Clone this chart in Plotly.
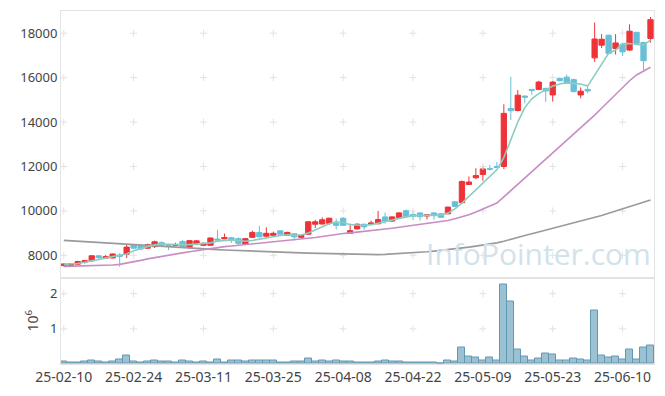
import plotly.graph_objects as go

dates = [
    "25-02-10", "25-02-11", "25-02-12", "25-02-13", "25-02-14",
    "25-02-17", "25-02-18", "25-02-19", "25-02-20", "25-02-21",
    "25-02-24", "25-02-25", "25-02-26", "25-02-27", "25-02-28",
    "25-03-04", "25-03-05", "25-03-06", "25-03-07",
    "25-03-10", "25-03-11", "25-03-12", "25-03-13", "25-03-14",
    "25-03-17", "25-03-18", "25-03-19", "25-03-20", "25-03-21",
    "25-03-24", "25-03-25", "25-03-26", "25-03-27", "25-03-28",
    "25-03-31", "25-04-01", "25-04-02", "25-04-03", "25-04-04",
    "25-04-07", "25-04-08", "25-04-09", "25-04-10", "25-04-11",
    "25-04-14", "25-04-15", "25-04-16", "25-04-17", "25-04-18",
    "25-04-21", "25-04-22", "25-04-23", "25-04-24", "25-04-25",
    "25-04-28", "25-04-29", "25-04-30", "25-05-02",
    "25-05-07", "25-05-08", "25-05-09",
    "25-05-12", "25-05-13", "25-05-14", "25-05-15", "25-05-16",
    "25-05-19", "25-05-20", "25-05-21", "25-05-22", "25-05-23",
    "25-05-26", "25-05-27", "25-05-28", "25-05-29", "25-05-30",
    "25-06-02", "25-06-04", "25-06-05",
    "25-06-09", "25-06-10", "25-06-11", "25-06-12", "25-06-13", "25-06-16",
]

open_ = [7540, 7540, 7600, 7690, 7750, 7980, 7870, 7880, 8010, 8050,
         8480, 8430, 8320, 8390, 8570, 8480, 8450, 8620, 8360, 8510,
         8450, 8450, 8730, 8740, 8790, 8750, 8500, 8810, 9030, 8860,
         8900, 9100, 8900, 8970, 8810, 8950, 9400, 9410, 9440, 9440,
         9670, 8990, 9190, 9400, 9390, 9420, 9730, 9540, 9690, 10010,
         9840, 9910, 9770, 9910, 9870, 9870, 10410, 10370, 11190, 11490,
         11640, 11900, 12000, 12000, 14610, 14520, 15170, 15470, 15470, 15510,
         15220, 15970, 16020, 15910, 15220, 15470, 16890, 17460, 17910, 17310,
         17500, 17240, 18040, 17580, 17760]
high = [7630, 7640, 7760, 7790, 8000, 8000, 8020, 8080, 8100, 8480,
        8500, 8450, 8530, 8660, 8630, 8520, 8570, 8690, 8680, 8690,
        8570, 8800, 9150, 8980, 8830, 8810, 8780, 9110, 9330, 9260,
        9070, 9120, 9060, 8990, 8920, 9540, 9600, 9710, 9700, 9650,
        9720, 9420, 9440, 9420, 9560, 10000, 9930, 9760, 9940, 10060,
        9990, 9940, 9850, 9930, 9890, 10190, 10450, 11370, 11550, 11920,
        12040, 12070, 12200, 14800, 16040, 15440, 15200, 15490, 15860, 15560,
        15860, 16000, 16140, 15960, 15560, 15590, 18480, 17960, 17930, 17960,
        17540, 18400, 18060, 17620, 18730]
low = [7500, 7520, 7580, 7630, 7740, 7820, 7850, 7860, 7480, 7880,
       8300, 8230, 8300, 8330, 8430, 8230, 8430, 8340, 8280, 8490,
       8420, 8440, 8660, 8720, 8560, 8450, 8490, 8800, 8810, 8830,
       8880, 8940, 8880, 8660, 8750, 8930, 9230, 9380, 9370, 9170,
       9330, 8960, 9160, 9150, 9360, 9400, 9420, 9510, 9670, 9700,
       9580, 9560, 9620, 9600, 9690, 9850, 10180, 10320, 11170, 11430,
       11350, 11810, 11950, 11880, 14090, 14480, 14840, 15230, 15440, 14900,
       14920, 15830, 15710, 15340, 15070, 15290, 16710, 17330, 17060, 17040,
       16970, 17200, 17520, 16340, 17580]
close = [7610, 7620, 7720, 7760, 7980, 7900, 7940, 8060, 7960, 8370,
         8320, 8280, 8480, 8610, 8450, 8450, 8480, 8370, 8660, 8650,
         8540, 8780, 8690, 8800, 8710, 8540, 8750, 9030, 8830, 8990,
         8990, 8950, 9030, 8830, 8890, 9510, 9510, 9600, 9670, 9350,
         9350, 9110, 9400, 9280, 9460, 9610, 9520, 9730, 9910, 9730,
         9760, 9740, 9830, 9800, 9710, 10170, 10200, 11320, 11300, 11590,
         11890, 11880, 11960, 14390, 14510, 15210, 15120, 15430, 15800, 15400,
         15800, 15860, 15740, 15370, 15390, 15400, 17740, 17730, 17090, 17560,
         17160, 18090, 17540, 16760, 18610]

ma_short = [7600, 7610, 7630, 7690, 7760, 7820, 7880, 7940, 8000, 8060,
            8210, 8285, 8390, 8470, 8510, 8500, 8480, 8480, 8480, 8500,
            8510, 8560, 8640, 8670, 8690, 8660, 8630, 8670, 8730, 8800,
            8850, 8890, 8920, 8930, 8915, 9000, 9150, 9300, 9420, 9510,
            9480, 9380, 9370, 9340, 9380, 9450, 9540, 9610, 9680, 9730,
            9780, 9800, 9800, 9800, 9810, 9900, 10090, 10350, 10650, 10980,
            11250, 11550, 11850, 12400, 13230, 14000, 14650, 15050, 15280, 15440,
            15620, 15710, 15770, 15740, 15710, 15620, 16110, 16640, 17090, 17240,
            17530, 17540, 17510, 17460, 17690]
ma_mid = [7500, 7505, 7510, 7515, 7520, 7530, 7545, 7565, 7590, 7640,
          7700, 7770, 7840, 7900, 7960, 8010, 8060, 8110, 8160, 8210,
          8260, 8300, 8350, 8390, 8420, 8450, 8480, 8510, 8540, 8570,
          8600, 8630, 8660, 8690, 8720, 8760, 8800, 8850, 8900, 8940,
          8980, 9010, 9040, 9070, 9100, 9140, 9180, 9220, 9260, 9300,
          9340, 9380, 9420, 9460, 9500, 9570, 9650, 9730, 9830, 9950,
          10080, 10210, 10350, 10630, 10910, 11190, 11470, 11750, 12030, 12310,
          12590, 12870, 13150, 13430, 13710, 14000, 14310, 14620, 14930, 15240,
          15550, 15860, 16120, 16300, 16470]
ma_long = [8670, 8650, 8630, 8610, 8590, 8570, 8555, 8535, 8515, 8495,
           8480, 8460, 8440, 8420, 8400, 8380, 8360, 8340, 8320, 8300,
           8285, 8270, 8255, 8240, 8225, 8210, 8200, 8185, 8170, 8160,
           8150, 8140, 8130, 8120, 8110, 8100, 8090, 8080, 8075, 8065,
           8055, 8045, 8035, 8028, 8020, 8030, 8040, 8055, 8070, 8088,
           8105, 8130, 8160, 8190, 8220, 8250, 8280, 8325, 8370, 8415,
           8460, 8510, 8560, 8635, 8710, 8800, 8890, 8970, 9050, 9130,
           9210, 9290, 9370, 9450, 9530, 9615, 9700, 9795, 9890, 9990,
           10090, 10190, 10290, 10390, 10490]

volume_m = [0.065, 0.04, 0.04, 0.065, 0.09, 0.065, 0.04, 0.065, 0.12, 0.23,
            0.065, 0.04, 0.065, 0.09, 0.065, 0.065, 0.04, 0.09, 0.065, 0.04,
            0.065, 0.04, 0.12, 0.04, 0.09, 0.09, 0.065, 0.09, 0.09, 0.09,
            0.09, 0.04, 0.04, 0.065, 0.065, 0.15, 0.065, 0.09, 0.065, 0.09,
            0.065, 0.065, 0.04, 0.04, 0.04, 0.065, 0.09, 0.065, 0.065, 0.04,
            0.04, 0.04, 0.04, 0.04, 0.004, 0.09, 0.065, 0.48, 0.21, 0.185,
            0.09, 0.185, 0.09, 2.27, 1.79, 0.40, 0.21, 0.09, 0.16, 0.31,
            0.26, 0.09, 0.09, 0.16, 0.13, 0.09, 1.51, 0.23, 0.185, 0.21,
            0.13, 0.40, 0.13, 0.48, 0.54]

price_ticks = [8000, 10000, 12000, 14000, 16000, 18000]
volume_ticks = [1, 2]
x_ticks = dates[::10]

RED = "#ee3338"
BLUE = "#68bfd8"
FONT = "Noto Sans"

fig = go.Figure()

# faint cross markers at grid intersections
gx = [d for d in x_ticks for _ in price_ticks]
gy = [v for _ in x_ticks for v in price_ticks]
fig.add_trace(go.Scatter(x=gx, y=gy, mode="markers", xaxis="x", yaxis="y",
                         marker=dict(symbol="cross-thin", size=5,
                                     line=dict(color="#e2e2e2", width=1)),
                         hoverinfo="skip", showlegend=False))
gx2 = [d for d in x_ticks for _ in volume_ticks]
gy2 = [v for _ in x_ticks for v in volume_ticks]
fig.add_trace(go.Scatter(x=gx2, y=gy2, mode="markers", xaxis="x2", yaxis="y2",
                         marker=dict(symbol="cross-thin", size=5,
                                     line=dict(color="#e2e2e2", width=1)),
                         hoverinfo="skip", showlegend=False))

fig.add_trace(go.Scatter(x=dates, y=ma_long, mode="lines", xaxis="x", yaxis="y",
                         line=dict(color="#9a9a9a", width=1.6), showlegend=False))
fig.add_trace(go.Scatter(x=dates, y=ma_mid, mode="lines", xaxis="x", yaxis="y",
                         line=dict(color="#c98cc3", width=1.6), showlegend=False))
fig.add_trace(go.Scatter(x=dates, y=ma_short, mode="lines", xaxis="x", yaxis="y",
                         line=dict(color="#8acdc1", width=1.6), showlegend=False))

fig.add_trace(go.Candlestick(
    x=dates, open=open_, high=high, low=low, close=close,
    xaxis="x", yaxis="y", whiskerwidth=0,
    increasing=dict(line=dict(color=RED, width=1), fillcolor=RED),
    decreasing=dict(line=dict(color=BLUE, width=1), fillcolor=BLUE),
    showlegend=False))

fig.add_trace(go.Bar(x=dates, y=volume_m, xaxis="x2", yaxis="y2",
                     marker=dict(color="rgba(150,191,209,0.95)",
                                 line=dict(color="#6497b0", width=1)),
                     showlegend=False))

axis_common = dict(showgrid=False, zeroline=False, showline=True, mirror=True,
                   linecolor="#e3e3e3", linewidth=1, ticks="")

fig.update_layout(
    width=665, height=396,
    margin=dict(l=61, r=10, t=11, b=29),
    paper_bgcolor="white", plot_bgcolor="white",
    showlegend=False, bargap=0, boxgap=0.2, boxgroupgap=0.05,
    xaxis=dict(type="category", anchor="y", domain=[0, 1], range=[-0.4, 84.5],
               showticklabels=False, rangeslider=dict(visible=False),
               categoryorder="array", categoryarray=dates, **axis_common),
    xaxis2=dict(type="category", anchor="y2", domain=[0, 1], range=[-0.4, 84.5],
                matches="x", tickmode="array", tickvals=x_ticks, ticktext=x_ticks,
                tickfont=dict(family=FONT, size=14, color="#444"),
                categoryorder="array", categoryarray=dates, **axis_common),
    yaxis=dict(domain=[0.245, 1], range=[7000, 19000], tickmode="array",
               tickvals=price_ticks, tickformat="d",
               tickfont=dict(family=FONT, size=13, color="#444"), **axis_common),
    yaxis2=dict(domain=[0, 0.245], range=[0, 2.46], tickmode="array",
                tickvals=volume_ticks,
                tickfont=dict(family=FONT, size=13, color="#444"),
                title=dict(text="10<sup>6</sup>", font=dict(family=FONT, size=14, color="#444"),
                           standoff=8),
                **axis_common),
    annotations=[dict(text="InfoPointer.com", xref="paper", yref="paper",
                      x=0.805, y=0.313, xanchor="center", yanchor="middle",
                      showarrow=False,
                      font=dict(family="Open Sans", size=30, color="#d2e2eb"))],
)

fig.write_html("out.html", config={"displayModeBar": False})

# remove the default page margin so the figure sits at the window origin
with open("out.html", "r", encoding="utf-8") as f:
    html = f.read()
html = html.replace("<head>", "<head><style>html,body{margin:0;padding:0;overflow:hidden;}</style>", 1)
with open("out.html", "w", encoding="utf-8") as f:
    f.write(html)
